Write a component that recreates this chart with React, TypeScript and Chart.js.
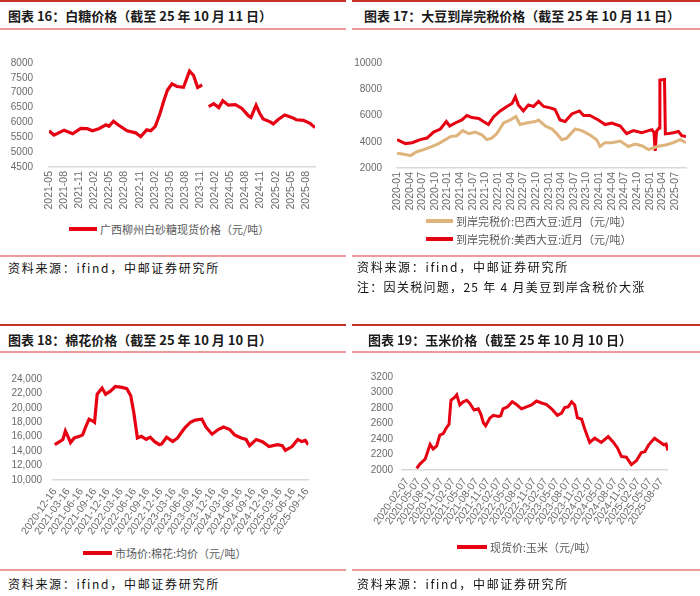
import React, { useEffect, useRef } from 'react';
import { Chart, registerables } from 'chart.js';

Chart.register(...registerables);

// ---------- DATA ----------
const sugarDates = ['2021-05-01','2021-06-01','2021-08-01','2021-09-22','2021-11-10','2021-12-19','2022-01-19','2022-02-28','2022-04-10','2022-04-28','2022-05-25','2022-06-22','2022-08-16','2022-10-07','2022-11-07','2022-12-13','2023-01-07','2023-02-04','2023-03-01','2023-03-22','2023-04-16','2023-05-13','2023-06-13','2023-07-22','2023-08-28','2023-09-22','2023-10-16','2023-11-13','2023-11-28','2023-12-22','2024-01-22','2024-02-22','2024-03-16','2024-04-19','2024-06-01','2024-07-10','2024-08-19','2024-09-04','2024-10-04','2024-10-28','2024-11-16','2024-12-28','2025-01-16','2025-02-16','2025-03-25','2025-05-07','2025-06-04','2025-07-16','2025-08-25','2025-09-25'];
const sugarValues = [5720,5570,5740,5620,5800,5790,5720,5790,5920,5870,6040,5920,5720,5650,5520,5750,5720,5870,6280,6680,7080,7300,7210,7180,7730,7580,7180,7260,null,6530,6630,6500,6730,6580,6600,6470,6220,6170,6580,6280,6120,6020,5950,6100,6250,6170,6090,6070,5970,5830];
const sugarTicks = ['2021-05','2021-08','2021-11','2022-02','2022-05','2022-08','2022-11','2023-02','2023-05','2023-08','2023-11','2024-02','2024-05','2024-08','2024-11','2025-02','2025-05','2025-08'];

const soyUsDates = ['2020-01-01','2020-03-01','2020-04-19','2020-06-16','2020-08-04','2020-09-22','2020-11-10','2020-12-22','2021-01-16','2021-02-25','2021-04-13','2021-05-19','2021-06-25','2021-08-13','2021-09-16','2021-10-22','2021-11-28','2022-01-16','2022-03-04','2022-04-10','2022-05-04','2022-05-25','2022-07-01','2022-08-07','2022-09-13','2022-10-19','2022-11-25','2023-01-13','2023-02-16','2023-03-22','2023-04-28','2023-06-16','2023-08-10','2023-09-10','2023-10-25','2023-12-25','2024-02-13','2024-04-01','2024-06-01','2024-07-16','2024-09-04','2024-11-04','2024-12-22','2025-01-16','2025-02-01','2025-02-10','2025-02-19','2025-03-07','2025-03-13','2025-04-16','2025-04-22','2025-05-13','2025-06-19','2025-07-25','2025-08-19','2025-09-19'];
const soyUsValues = [4160,3860,3930,4160,4280,4740,4970,5540,5200,5430,5660,6000,5840,5770,5540,5310,5890,6350,6690,6920,7430,6810,6350,6810,6690,7080,6690,6580,6460,5660,5540,6120,6350,6000,6000,5660,5310,5430,5200,4620,4850,4690,4850,4920,4700,3300,4800,5050,8700,8750,4600,4620,4690,4780,4460,4390];
const soyBrDates = ['2020-01-01','2020-02-19','2020-04-07','2020-05-22','2020-07-10','2020-08-28','2020-10-28','2020-12-16','2021-01-19','2021-03-07','2021-04-19','2021-06-01','2021-07-19','2021-09-07','2021-10-10','2021-11-16','2021-12-22','2022-02-10','2022-03-28','2022-05-07','2022-06-07','2022-07-25','2022-09-25','2022-10-19','2022-12-07','2023-01-25','2023-02-28','2023-04-04','2023-05-10','2023-07-10','2023-08-28','2023-10-25','2023-12-13','2024-01-07','2024-02-13','2024-04-01','2024-06-01','2024-07-28','2024-09-16','2024-11-04','2024-12-22','2025-02-22','2025-05-01','2025-06-19','2025-08-07','2025-09-19'];
const soyBrValues = [3125,3055,2945,3240,3400,3590,3860,4160,4390,4460,4850,4620,4740,4510,4160,4280,4620,5430,5660,5930,5310,5430,5540,5650,5200,4970,4620,4160,4280,4970,4850,4510,4160,3640,3930,3930,4050,3640,3820,3700,3400,3640,3770,3930,4160,3930];
const soyTicks = ['2020-01','2020-04','2020-07','2020-10','2021-01','2021-04','2021-07','2021-10','2022-01','2022-04','2022-07','2022-10','2023-01','2023-04','2023-07','2023-10','2024-01','2024-04','2024-07','2024-10','2025-01','2025-04','2025-07'];

const cottonDates = ['2020-12-16','2021-01-19','2021-02-11','2021-02-28','2021-03-15','2021-04-03','2021-04-28','2021-06-03','2021-06-25','2021-07-16','2021-08-09','2021-08-31','2021-09-16','2021-10-04','2021-11-07','2021-12-01','2022-01-04','2022-02-07','2022-03-22','2022-04-25','2022-05-22','2022-06-13','2022-07-07','2022-08-04','2022-09-07','2022-10-04','2022-11-04','2022-12-07','2022-12-22','2023-01-25','2023-03-07','2023-04-10','2023-05-13','2023-06-04','2023-07-07','2023-08-10','2023-09-25','2023-10-22','2023-12-04','2024-01-16','2024-02-22','2024-04-04','2024-05-07','2024-06-22','2024-07-25','2024-08-19','2024-10-04','2024-11-16','2025-01-01','2025-02-28','2025-04-01','2025-04-22','2025-06-07','2025-07-16','2025-08-13','2025-09-07','2025-09-28'];
const cottonValues = [14890,15320,15620,16790,16050,15190,15830,16050,16260,17350,18430,18210,18000,21890,22750,21890,22320,22960,22830,22660,21670,19290,15830,16050,15620,15930,15320,14890,15000,15930,15320,15830,16790,17350,18000,18300,18430,17350,16350,17000,17350,17000,16260,15830,15620,14760,15620,15320,14630,14890,14760,14110,14630,15620,15320,15490,14890];
const cottonTicks = ['2020-12-16','2021-03-16','2021-06-16','2021-09-16','2021-12-16','2022-03-16','2022-06-16','2022-09-16','2022-12-16','2023-03-16','2023-06-16','2023-09-16','2023-12-16','2024-03-16','2024-06-16','2024-09-16','2024-12-16','2025-03-16','2025-06-16','2025-09-16'];

const cornDates = ['2020-04-22','2020-05-19','2020-06-28','2020-08-07','2020-08-31','2020-09-28','2020-10-22','2020-11-19','2020-12-16','2021-01-04','2021-01-19','2021-02-19','2021-03-04','2021-03-28','2021-04-25','2021-05-22','2021-06-16','2021-07-19','2021-08-22','2021-09-13','2021-10-01','2021-10-19','2021-11-22','2021-12-19','2022-01-28','2022-02-16','2022-03-04','2022-04-10','2022-05-16','2022-06-19','2022-07-28','2022-09-07','2022-10-16','2022-11-25','2023-01-04','2023-02-13','2023-03-22','2023-05-07','2023-06-10','2023-07-04','2023-07-31','2023-08-28','2023-09-22','2023-10-13','2023-11-16','2023-12-10','2024-01-19','2024-02-28','2024-04-19','2024-06-13','2024-07-19','2024-08-25','2024-09-25','2024-11-04','2024-12-13','2025-01-22','2025-03-01','2025-03-28','2025-04-28','2025-06-13','2025-07-22','2025-08-25','2025-09-13','2025-09-28'];
const cornValues = [2020,2080,2140,2330,2270,2310,2450,2470,2550,2590,2900,2940,2970,2840,2880,2900,2860,2775,2790,2715,2610,2570,2670,2705,2690,2700,2790,2815,2880,2845,2790,2815,2840,2890,2865,2845,2790,2705,2735,2805,2815,2880,2840,2675,2655,2530,2355,2410,2355,2430,2365,2285,2175,2165,2070,2120,2225,2235,2325,2410,2365,2325,2335,2250];
const cornTicks = ['2020-02-07','2020-05-07','2020-08-07','2020-11-07','2021-02-07','2021-05-07','2021-08-07','2021-11-07','2022-02-07','2022-05-07','2022-08-07','2022-11-07','2023-02-07','2023-05-07','2023-08-07','2023-11-07','2024-02-07','2024-05-07','2024-08-07','2024-11-07','2025-02-07','2025-05-07','2025-08-07'];

// ---------- HELPERS ----------
const mn = (s: string) => {
  const p = s.split('-').map(Number);
  const d = p[2] || 1;
  return (p[0] - 2000) * 12 + (p[1] - 1) + (d - 1) / 30;
};
const pts = (dates: string[], vals: (number | null)[]) => dates.map((d, i) => ({ x: mn(d), y: vals[i] }));

const RED = '#e60012';
const TAN = '#dfb47c';
const TICK_COLOR = '#6a6a6a';
const TICK_FONT = '"Liberation Sans", Arial, sans-serif';
const CJK = '"Noto Sans CJK SC", "Noto Sans", sans-serif';

type Cfg = {
  datasets: any[];
  xMin: string; xMax: string; ticks: string[]; rotation: number; xHeight: number; xPad: number;
  yMin: number; yMax: number; yStep: number; yWidth: number; yPad: number; comma: boolean;
};

function makeConfig(c: Cfg): any {
  return {
    type: 'line',
    data: { datasets: c.datasets },
    options: {
      animation: false,
      responsive: true,
      maintainAspectRatio: false,
      layout: { padding: { top: 10, right: 10, left: 0, bottom: 0 } },
      plugins: { legend: { display: false }, tooltip: { enabled: false } },
      elements: { point: { radius: 0 }, line: { tension: 0 } },
      scales: {
        x: {
          type: 'linear',
          min: mn(c.xMin),
          max: mn(c.xMax),
          grid: { display: false, drawTicks: false },
          border: { display: true, color: '#d9d9d9', width: 1.5 },
          afterBuildTicks: (axis: any) => {
            axis.ticks = c.ticks.map((t) => ({ value: mn(t) }));
          },
          afterFit: (s: any) => { s.height = c.xHeight; },
          ticks: {
            autoSkip: false,
            minRotation: c.rotation,
            maxRotation: c.rotation,
            padding: c.xPad,
            color: TICK_COLOR,
            font: { size: 10.5, family: TICK_FONT },
            callback: (_v: any, i: number) => c.ticks[i],
          },
        },
        y: {
          min: c.yMin,
          max: c.yMax,
          grid: { display: false, drawTicks: false },
          border: { display: false },
          afterFit: (s: any) => { s.width = c.yWidth; },
          ticks: {
            autoSkip: false,
            stepSize: c.yStep,
            padding: c.yPad,
            color: TICK_COLOR,
            font: { size: 10, family: TICK_FONT },
            callback: (v: any) => (c.comma ? Number(v).toLocaleString('en-US') : String(v)),
          },
        },
      },
    },
  };
}

function ChartBox({ cfg, style }: { cfg: Cfg; style: React.CSSProperties }) {
  const ref = useRef<HTMLCanvasElement>(null);
  useEffect(() => {
    const chart = new Chart(ref.current as HTMLCanvasElement, makeConfig(cfg));
    return () => chart.destroy();
  }, []);
  return (
    <div style={{ position: 'absolute', ...style }}>
      <canvas ref={ref} />
    </div>
  );
}

const lineDs = (data: any[], color: string, width = 3) => ({
  data, borderColor: color, backgroundColor: color, borderWidth: width, pointRadius: 0, fill: false, spanGaps: false,
});

function Rule({ x, w, y, color, h }: { x: number; w: number; y: number; color: string; h: number }) {
  return <div style={{ position: 'absolute', left: x, top: y - h / 2, width: w, height: h, background: color }} />;
}

function Txt({ x, y, text, size, weight, color, ls, family }: any) {
  return (
    <div style={{ position: 'absolute', left: x, top: y - 9, height: 18, lineHeight: '18px', fontSize: size, fontWeight: weight || 400,
      color: color || '#111', letterSpacing: ls || 0, fontFamily: family || CJK, whiteSpace: 'nowrap' }}>{text}</div>
  );
}

function Legend({ x, y, lineW, color, text }: any) {
  return (
    <div style={{ position: 'absolute', left: x, top: y - 9, height: 18, display: 'flex', alignItems: 'center', whiteSpace: 'nowrap' }}>
      <div style={{ width: lineW, height: 3.5, background: color, marginRight: 3 }} />
      <span style={{ fontSize: 11, color: '#595959', fontFamily: CJK, lineHeight: '18px' }}>{text}</span>
    </div>
  );
}

const sugarCfg: Cfg = {
  datasets: [lineDs(pts(sugarDates, sugarValues), RED, 3.2)],
  xMin: '2021-05-01', xMax: '2025-09-25', ticks: sugarTicks, rotation: 90, xHeight: 48, xPad: 4,
  yMin: 4500, yMax: 8000, yStep: 500, yWidth: 49, yPad: 16, comma: false,
};
const soyCfg: Cfg = {
  datasets: [lineDs(pts(soyBrDates, soyBrValues), TAN, 3), lineDs(pts(soyUsDates, soyUsValues), RED, 3)],
  xMin: '2020-01-01', xMax: '2025-09-19', ticks: soyTicks, rotation: 90, xHeight: 46, xPad: 4,
  yMin: 2000, yMax: 10000, yStep: 2000, yWidth: 47, yPad: 15, comma: false,
};
const cottonCfg: Cfg = {
  datasets: [lineDs(pts(cottonDates, cottonValues), RED, 3.2)],
  xMin: '2020-12-04', xMax: '2025-09-28', ticks: cottonTicks, rotation: 55, xHeight: 62, xPad: 6,
  yMin: 10000, yMax: 24000, yStep: 2000, yWidth: 53, yPad: 11, comma: true,
};
const cornCfg: Cfg = {
  datasets: [lineDs(pts(cornDates, cornValues), RED, 3)],
  xMin: '2019-12-28', xMax: '2025-09-28', ticks: cornTicks, rotation: 55, xHeight: 67, xPad: 6,
  yMin: 2000, yMax: 3200, yStep: 200, yWidth: 52, yPad: 9, comma: false,
};

const DARK_RULE = '#c9302c';
const PINK_RULE = '#ec9a9a';
const SRC = '资料来源：ifind，中邮证券研究所';

export default function App() {
  return (
    <div style={{ position: 'absolute', left: 0, top: 0, width: 700, height: 596, background: '#fff', overflow: 'hidden' }}>
      {/* Panel 16 */}
      <Rule x={0} w={346} y={1} color={DARK_RULE} h={2} />
      <Txt x={8} y={16} text="图表 16：白糖价格（截至 25 年 10 月 11 日）" size={13} weight={700} color="#1a1a1a" />
      <Rule x={0} w={346} y={29} color={PINK_RULE} h={1.5} />
      <ChartBox cfg={sugarCfg} style={{ left: 0, top: 41, width: 325, height: 174 }} />
      <Legend x={69} y={229} lineW={28} color={RED} text="广西柳州白砂糖现货价格（元/吨）" />
      <Rule x={0} w={346} y={256} color={PINK_RULE} h={1.2} />
      <Txt x={8} y={268} text={SRC} size={12} ls={1.7} />

      {/* Panel 17 */}
      <Rule x={352} w={348} y={1} color={DARK_RULE} h={2} />
      <Txt x={364} y={16} text="图表 17：大豆到岸完税价格（截至 25 年 10 月 11 日）" size={13} weight={700} color="#1a1a1a" />
      <Rule x={352} w={348} y={29} color={PINK_RULE} h={1.5} />
      <ChartBox cfg={soyCfg} style={{ left: 350, top: 42, width: 346, height: 172 }} />
      <Legend x={426} y={221} lineW={27} color={TAN} text="到岸完税价:巴西大豆:近月（元/吨）" />
      <Legend x={426} y={239} lineW={27} color={RED} text="到岸完税价:美西大豆:近月（元/吨）" />
      <Rule x={352} w={348} y={256} color={PINK_RULE} h={1.2} />
      <Txt x={357} y={267} text={SRC} size={12} ls={1.7} />
      <Txt x={357} y={287} text="注：因关税问题，25 年 4 月美豆到岸含税价大涨" size={12} ls={1.3} />

      {/* Panel 18 */}
      <Rule x={0} w={346} y={325} color={DARK_RULE} h={2} />
      <Txt x={8} y={340} text="图表 18：棉花价格（截至 25 年 10 月 10 日）" size={13} weight={700} color="#1a1a1a" />
      <Rule x={0} w={346} y={352} color={PINK_RULE} h={1.5} />
      <ChartBox cfg={cottonCfg} style={{ left: 0, top: 362, width: 323, height: 180 }} />
      <Legend x={83} y={553} lineW={29} color={RED} text="市场价:棉花:均价（元/吨）" />
      <Rule x={0} w={346} y={570} color={PINK_RULE} h={1.2} />
      <Txt x={8} y={584} text={SRC} size={12} ls={1.7} />

      {/* Panel 19 */}
      <Rule x={352} w={348} y={325} color={DARK_RULE} h={2} />
      <Txt x={368} y={340} text="图表 19：玉米价格（截至 25 年 10 月 10 日）" size={13} weight={700} color="#1a1a1a" />
      <Rule x={352} w={348} y={352} color={PINK_RULE} h={1.5} />
      <ChartBox cfg={cornCfg} style={{ left: 350, top: 362, width: 328, height: 175 }} />
      <Legend x={457} y={547} lineW={30} color={RED} text="现货价:玉米（元/吨）" />
      <Rule x={352} w={348} y={570} color={PINK_RULE} h={1.2} />
      <Txt x={357} y={584} text={SRC} size={12} ls={1.7} />
    </div>
  );
}
